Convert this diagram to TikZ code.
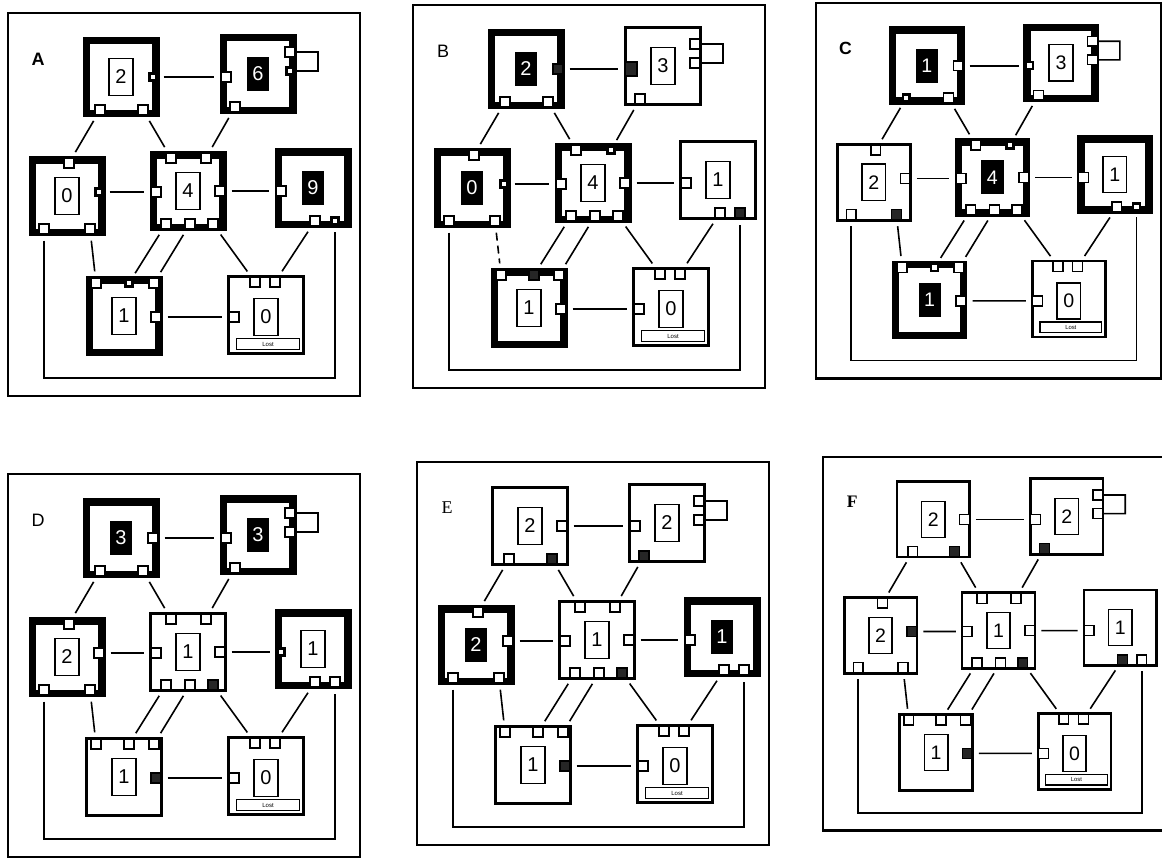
\documentclass[tikz,border=0pt]{standalone}
\usepackage{fontspec}
\setmainfont{Liberation Serif}
\setsansfont{Liberation Sans}
\usetikzlibrary{positioning}

\tikzset{
    % Processors
    procBase/.style={rectangle, draw=black, fill=white, inner sep=0pt},
    procThin/.style={procBase, line width=2.6pt, minimum width=74.5pt, minimum height=77.5pt},
    procThick/.style={procBase, line width=7.5pt, minimum width=69.5pt, minimum height=72.5pt},
    % Rank boxes
    numOpen/.style={rectangle, draw=black, line width=1.6pt, fill=white, minimum width=24pt, minimum height=37pt, inner sep=0pt, font=\sffamily\fontsize{20}{20}\selectfont},
    numFill/.style={numOpen, fill=black, text=white, minimum width=21pt, minimum height=33pt},
    % Ports
    portOpen/.style={rectangle, draw=black, line width=1.4pt, fill=white, minimum size=10pt, inner sep=0pt},
    portDark/.style={portOpen, fill=black!85},
    portMark/.style={portOpen, line width=2.4pt, minimum size=7pt},
    lostBox/.style={rectangle, draw=black, line width=1.3pt, fill=white, minimum width=63pt, minimum height=11pt, inner sep=0pt, font=\sffamily\fontsize{6}{6}\selectfont},
    % Links and frames
    link/.style={line width=1.6pt, shorten <=6pt, shorten >=6pt},
    loopLink/.style={line width=1.6pt},
    panelFrame/.style={line width=2.4pt},
    panelTag/.style={font=\sffamily\bfseries\fontsize{18}{18}\selectfont}
}

% one panel: #1 letter, #2..#8 ranks of tl, tr, ml, c, mr, bl, br
\newcommand{\drawPanel}[8]{%
    \draw[panelFrame] (0,0) rectangle (352,383);
    \node[panelTag, tagFont/.try] (#1-tag) at (30,46) {#1};
    % processors and their ranks
    \foreach \q/\x/\y/\ny/\r in {tl/113/64/64/#2, tr/250/61/61/#3, ml/59/183/183/#4, c/180/178/178/#5, mr/305/175/175/#6, bl/116/303/303/#7, br/258/302/304/#8}{
        \node[procThin, \q Proc/.try] (#1-\q) at (\x,\y) {};
        \node[numOpen, \q Num/.try] (#1-\q-num) at (\x,\ny) {\r};
    }
    \node[lostBox] (#1-lost) at (260,331) {Lost};
    % ports
    \foreach \p/\x/\y in {tlR/145/64, tlB1/92/97, tlB2/135/97, trL/218/64, trR1/282/39, trR2/282/58, trB1/227/94,
        mlT/61/150, mlR/91/179, mlB1/36/216, mlB2/82/216, cT1/163/145, cT2/198/145, cL/148/179, cR/212/178,
        cB1/158/211, cB2/182/211, cB3/205/211, mrL/273/178, mrB1/307/208, mrB2/327/208,
        blT1/88/270, blT2/121/270, blT3/146/270, blR/148/304, brT1/247/269, brT2/267/269, brL/226/304}
        \node[portOpen, \p/.try] (#1-\p) at (\x,\y) {};
    % links
    \draw[link] (#1-tlR) -- (#1-trL);
    \draw[loopLink] (#1-trR1) -- ++(28,0) |- (#1-trR2);
    \draw[link] (#1-tlB1) -- (#1-mlT);
    \draw[link] (#1-tlB2) -- (#1-cT1);
    \draw[link] (#1-trB1) -- (#1-cT2);
    \draw[link] (#1-mlR) -- (#1-cL);
    \draw[link] (#1-cR) -- (#1-mrL);
    \draw[link, mlLink/.try] (#1-mlB2) -- (#1-blT1);
    \draw[link] (#1-cB1) -- (#1-blT2);
    \draw[link] (#1-cB2) -- (#1-blT3);
    \draw[link] (#1-cB3) -- (#1-brT1);
    \draw[link] (#1-mrB1) -- (#1-brT2);
    \draw[link] (#1-blR) -- (#1-brL);
    \draw[link] (#1-mlB1) -- ++(0,149) -| (#1-mrB2);
}

\begin{document}
\begin{tikzpicture}[x=1pt, y=-1pt]
\useasboundingbox (0,0) rectangle (1162,859);

% A
\begin{scope}[shift={(8,13)},
    tlProc/.style=procThick, trProc/.style=procThick, mlProc/.style=procThick,
    cProc/.style=procThick, mrProc/.style=procThick, blProc/.style=procThick,
    trNum/.style=numFill, mrNum/.style=numFill,
    tlR/.style=portMark, trR2/.style=portMark, mlR/.style=portMark, mrB2/.style=portMark, blT2/.style=portMark]
    \drawPanel{A}{2}{6}{0}{4}{9}{1}{0}
\end{scope}

% B
\begin{scope}[shift={(413,5)},
    tlProc/.style=procThick, mlProc/.style=procThick, cProc/.style=procThick, blProc/.style=procThick,
    tlNum/.style=numFill, mlNum/.style=numFill,
    tlR/.style=portDark, trL/.style={portDark, minimum width=12pt, minimum height=14pt},
    mlR/.style=portMark, cT2/.style=portMark, mrB2/.style=portDark, blT2/.style=portDark,
    tagFont/.style={font=\sffamily\fontsize{18}{18}\selectfont},
    mlLink/.style={dash pattern=on 8pt off 5pt}]
    \drawPanel{B}{2}{3}{0}{4}{1}{1}{0}
\end{scope}

% C
\begin{scope}[shift={(816,3)}, scale=0.98, transform shape,
    tlProc/.style=procThick, trProc/.style=procThick, cProc/.style=procThick,
    mrProc/.style=procThick, blProc/.style=procThick,
    tlNum/.style=numFill, cNum/.style=numFill, blNum/.style=numFill,
    tlB1/.style=portMark, trL/.style=portMark, mlB2/.style=portDark,
    cT2/.style=portMark, mrB2/.style=portMark, blT2/.style=portMark]
    \drawPanel{C}{1}{3}{2}{4}{1}{1}{0}
\end{scope}

% D
\begin{scope}[shift={(8,474)},
    tlProc/.style=procThick, trProc/.style=procThick, mlProc/.style=procThick, mrProc/.style=procThick,
    tlNum/.style=numFill, trNum/.style=numFill,
    cB3/.style=portDark, blR/.style=portDark, mrL/.style=portMark,
    tagFont/.style={font=\sffamily\fontsize{18}{18}\selectfont}]
    \drawPanel{D}{3}{3}{2}{1}{1}{1}{0}
\end{scope}

% E
\begin{scope}[shift={(417,462)},
    mlProc/.style=procThick, mrProc/.style=procThick,
    mlNum/.style=numFill, mrNum/.style=numFill,
    tlB2/.style=portDark, trB1/.style=portDark, cB3/.style=portDark, blR/.style=portDark,
    tagFont/.style={font=\rmfamily\fontsize{18}{18}\selectfont}]
    \drawPanel{E}{2}{2}{2}{1}{1}{1}{0}
\end{scope}

% F
\begin{scope}[shift={(823,457)}, scale=0.975, transform shape,
    tlB2/.style=portDark, trB1/.style=portDark, mlR/.style=portDark,
    cB3/.style=portDark, mrB1/.style=portDark, blR/.style=portDark,
    tagFont/.style={font=\rmfamily\bfseries\fontsize{18}{18}\selectfont}]
    \drawPanel{F}{2}{2}{2}{1}{1}{1}{0}
\end{scope}
\end{tikzpicture}
\end{document}
